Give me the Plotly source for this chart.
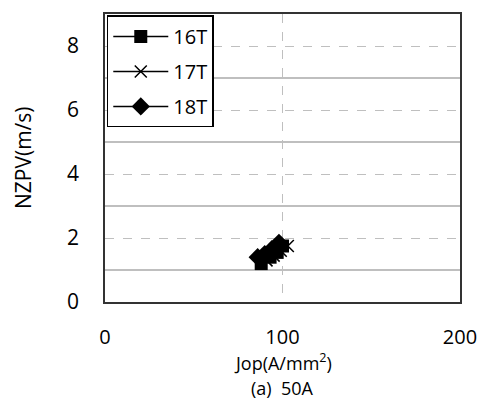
import plotly.graph_objects as go

x16 = [88, 93, 97, 100]
y16 = [1.2, 1.4, 1.55, 1.75]
x17 = [91, 95, 99, 103]
y17 = [1.3, 1.45, 1.6, 1.75]
x18 = [86, 90, 94, 98]
y18 = [1.4, 1.5, 1.65, 1.85]

FONT = "Open Sans"
fig = go.Figure()
fig.add_trace(go.Scatter(x=x16, y=y16, name="16T", mode="lines+markers", legendgroup="a",
                         line=dict(color="black", width=1.5),
                         marker=dict(symbol="square", size=13, color="black")))
fig.add_trace(go.Scatter(x=x17, y=y17, name="17T", mode="lines+markers", legendgroup="b",
                         line=dict(color="black", width=1.5),
                         marker=dict(symbol="x-thin", size=12, color="black",
                                     line=dict(color="black", width=1.5))))
fig.add_trace(go.Scatter(x=x18, y=y18, name="18T", mode="lines+markers", legendgroup="c",
                         line=dict(color="black", width=1.5),
                         marker=dict(symbol="diamond", size=14, color="black")))

fig.update_layout(
    width=489, height=401,
    margin=dict(l=105, r=21, t=12, b=99),
    paper_bgcolor="white", plot_bgcolor="white",
    font=dict(family=FONT, size=21, color="black"),
    showlegend=True,
    legend=dict(x=0.005, y=0.995, xanchor="left", yanchor="top",
                bordercolor="black", borderwidth=1.5, bgcolor="white",
                font=dict(size=20), itemwidth=55, tracegroupgap=6),
    xaxis=dict(range=[0, 200], dtick=100, tick0=0, showgrid=True,
               gridcolor="#bfbfbf", griddash="dash", gridwidth=1,
               showline=True, linecolor="#333", linewidth=1.5, mirror=True,
               zeroline=False, ticks="", ticklabelstandoff=16,
               tickfont=dict(size=20)),
    yaxis=dict(range=[0, 9], dtick=2, tick0=0, showgrid=True,
               gridcolor="#bfbfbf", griddash="dash", gridwidth=1,
               minor=dict(tick0=1, dtick=2, showgrid=True, gridcolor="#bfbfbf",
                          griddash="solid", gridwidth=1.5),
               showline=True, linecolor="#333", linewidth=1.5, mirror=True,
               zeroline=False, ticks="", ticklabelstandoff=20),
    annotations=[
        dict(text="Jop(A/mm<sup>2</sup>)", xref="paper", yref="paper", x=0.5, y=0,
             xanchor="center", yanchor="middle", yshift=-60, showarrow=False,
             font=dict(size=18)),
        dict(text="(a)  50A", xref="paper", yref="paper", x=0.5, y=0,
             xanchor="center", yanchor="middle", yshift=-86, showarrow=False,
             font=dict(size=18)),
        dict(text="NZPV(m/s)", xref="paper", yref="paper", x=0, y=0.5,
             xanchor="center", yanchor="middle", xshift=-82, textangle=-90,
             showarrow=False, font=dict(size=21)),
    ],
)
fig.write_html("out.html")
